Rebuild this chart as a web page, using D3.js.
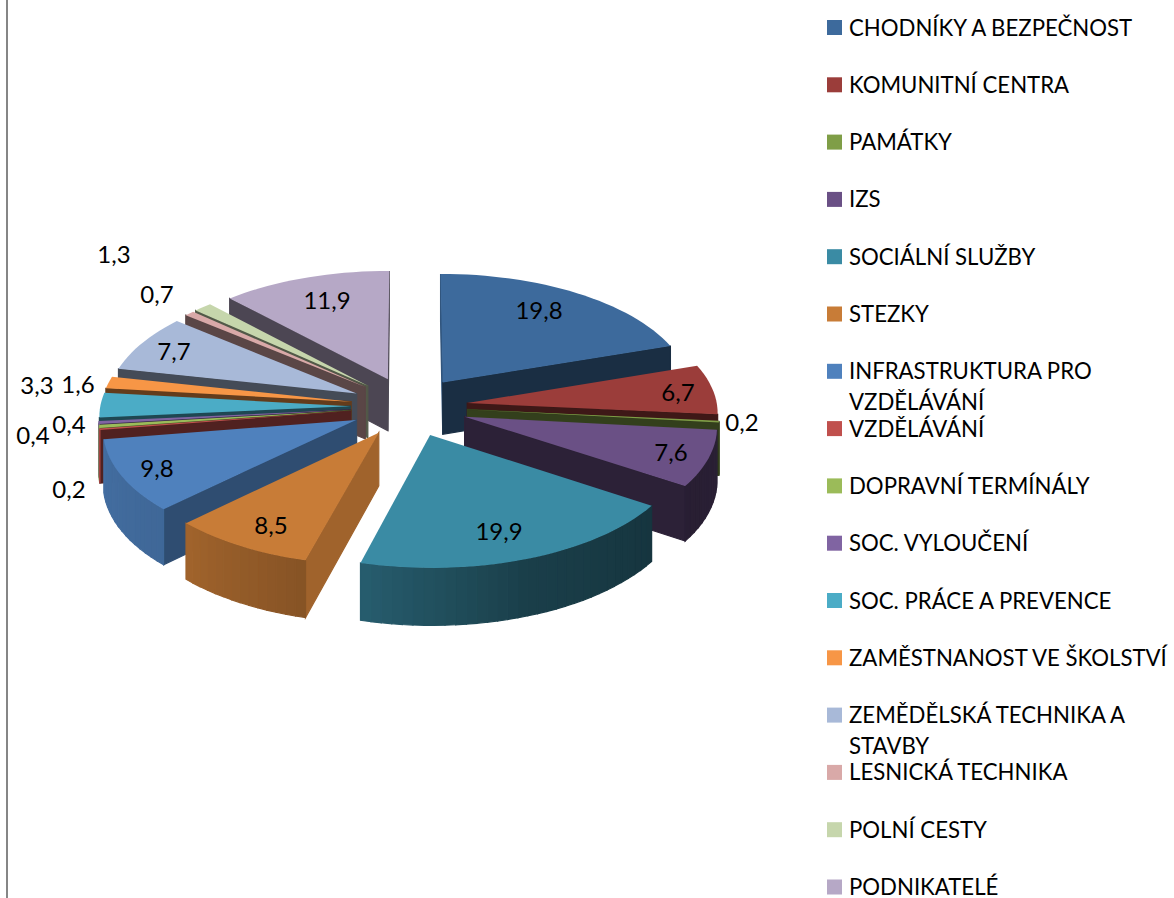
<!DOCTYPE html>
<html>
<head>
<meta charset="utf-8">
<script src="https://cdn.jsdelivr.net/npm/d3@7"></script>
<style>
  body { margin: 0; background: #fff; }
  svg { display: block; font-family: Lato, sans-serif; }
</style>
</head>
<body>
<div id="chart"></div>
<script>
const categories = [
  ["CHODNÍKY A BEZPEČNOST"],
  ["KOMUNITNÍ CENTRA"],
  ["PAMÁTKY"],
  ["IZS"],
  ["SOCIÁLNÍ SLUŽBY"],
  ["STEZKY"],
  ["INFRASTRUKTURA PRO", "VZDĚLÁVÁNÍ"],
  ["VZDĚLÁVÁNÍ"],
  ["DOPRAVNÍ TERMÍNÁLY"],
  ["SOC. VYLOUČENÍ"],
  ["SOC. PRÁCE A PREVENCE"],
  ["ZAMĚSTNANOST VE ŠKOLSTVÍ"],
  ["ZEMĚDĚLSKÁ TECHNIKA A", "STAVBY"],
  ["LESNICKÁ TECHNIKA"],
  ["POLNÍ CESTY"],
  ["PODNIKATELÉ"],
];
const values = [19.8, 6.7, 0.2, 7.6, 19.9, 8.5, 9.8, 0.2, 0.4, 0.4, 3.3, 1.6, 7.7, 0.7, 1.3, 11.9];
const colors = [
  "#3d6a9c", "#9b3d3a", "#7f9e47", "#6a5085", "#3a8ba4", "#c87c37", "#4f81bd", "#c0504d",
  "#9bbb59", "#8064a2", "#4bacc6", "#f79646", "#a8b9d8", "#d9a9a8", "#c6d6ac", "#b6a8c6",
];
// where the value labels sit (centre of the text)
const labelPos = [
  [539, 310], [678, 392], [742, 422], [671, 452], [499, 531], [271, 525], [157, 468], [69, 489],
  [33, 435], [69, 424], [37, 385], [78, 384], [174, 351], [157, 294], [114, 254], [327, 300],
];

const width = 1174;
const height = 898;

// fake 3D view of the pie
const cx = 409;
const cy = 406.5;
const radius = 250;
const tilt = 0.478;
const persp = 0.07;
const explodeU = 0.235;
const explodeV = 0.25;
const depth = 52.5;

function project(u, v, z) {
  const s = 1 / (1 + persp * v);
  return [cx + u * radius * s, cy - v * radius * tilt * s + z * depth * s];
}

// wall shades depend on which way the wall faces (degrees clockwise from the back)
const radialShade = d3.scaleLinear().domain([105, 135, 161, 185, 230]).range([0.8, 0.6, 0.43, 0.4, 0.42]).clamp(true);
const arcShade = d3.scaleLinear().domain([96, 123, 160, 195, 225, 260]).range([0.4, 0.38, 0.45, 0.67, 0.8, 0.85]).clamp(true);
const shade = (color, f) => d3.interpolateRgb("#000", color)(f);

const svg = d3
  .select("#chart")
  .append("svg")
  .attr("width", width)
  .attr("height", height);

// left border
svg
  .append("line")
  .attr("x1", 7)
  .attr("x2", 7)
  .attr("y1", 0)
  .attr("y2", height)
  .attr("stroke", "#868686")
  .attr("stroke-width", 2);

const slices = d3
  .pie()
  .sort(null)
  .value((d) => d)(values)
  .map((d, i) => {
    const mid = (d.startAngle + d.endAngle) / 2;
    const ou = explodeU * Math.sin(mid);
    const ov = explodeV * Math.cos(mid);
    const steps = Math.max(2, Math.ceil((d.endAngle - d.startAngle) / 0.04));
    const rim = d3.range(steps + 1).map((k) => {
      const a = d.startAngle + ((d.endAngle - d.startAngle) * k) / steps;
      return { a, u: ou + Math.sin(a), v: ov + Math.cos(a) };
    });
    return { i, mid, ou, ov, rim, start: d.startAngle, end: d.endAngle, color: colors[i] };
  });

const line = d3.line();
const deg = (a) => (a * 180) / Math.PI;

function wall(g, a, b, fill) {
  g.append("path")
    .attr("d", line([project(a.u, a.v, 0), project(b.u, b.v, 0), project(b.u, b.v, 1), project(a.u, a.v, 1)]) + "Z")
    .attr("fill", fill)
    .attr("stroke", fill)
    .attr("stroke-width", 1.2);
}

// back slices first so the front ones paint over them
const order = slices.slice().sort((a, b) => Math.cos(b.mid) - Math.cos(a.mid));

order.forEach((s) => {
  const g = svg.append("g").attr("class", "slice");
  const tip = { u: s.ou, v: s.ov };
  const first = s.rim[0];
  const last = s.rim[s.rim.length - 1];

  // a wall shows when its edge runs right to left in clockwise order
  const xOf = (p) => project(p.u, p.v, 0)[0];
  if (xOf(first) < xOf(tip)) {
    wall(g, tip, first, shade(s.color, radialShade(deg(s.start) - 90)));
  }
  if (xOf(tip) < xOf(last)) {
    wall(g, last, tip, shade(s.color, radialShade(deg(s.end) + 90)));
  }
  d3.pairs(s.rim).forEach(([a, b]) => {
    if (xOf(b) < xOf(a)) {
      wall(g, a, b, shade(s.color, arcShade(deg((a.a + b.a) / 2))));
    }
  });

  // top face
  const outline = [tip, ...s.rim].map((p) => project(p.u, p.v, 0));
  g.append("path").attr("d", line(outline) + "Z").attr("fill", s.color);
});

// value labels
svg
  .append("g")
  .selectAll("text")
  .data(values)
  .join("text")
  .attr("x", (d, i) => labelPos[i][0])
  .attr("y", (d, i) => labelPos[i][1])
  .attr("dy", "0.36em")
  .attr("text-anchor", "middle")
  .attr("font-size", 24)
  .attr("fill", "#000")
  .text((d) => String(d).replace(".", ","));

// legend
const legendY = d3.scaleLinear().domain([0, categories.length - 1]).range([27.5, 887]);

const legend = svg
  .append("g")
  .selectAll("g")
  .data(categories)
  .join("g")
  .attr("transform", (d, i) => `translate(827,${legendY(i)})`);

legend
  .append("rect")
  .attr("y", -7.5)
  .attr("width", 15)
  .attr("height", 15)
  .attr("fill", (d, i) => colors[i]);

legend
  .selectAll("text")
  .data((d) => d)
  .join("text")
  .attr("x", 22)
  .attr("y", (d, k) => k * 31)
  .attr("dy", "0.36em")
  .attr("font-size", 22.2)
  .attr("fill", "#000")
  .text((d) => d);
</script>
</body>
</html>
